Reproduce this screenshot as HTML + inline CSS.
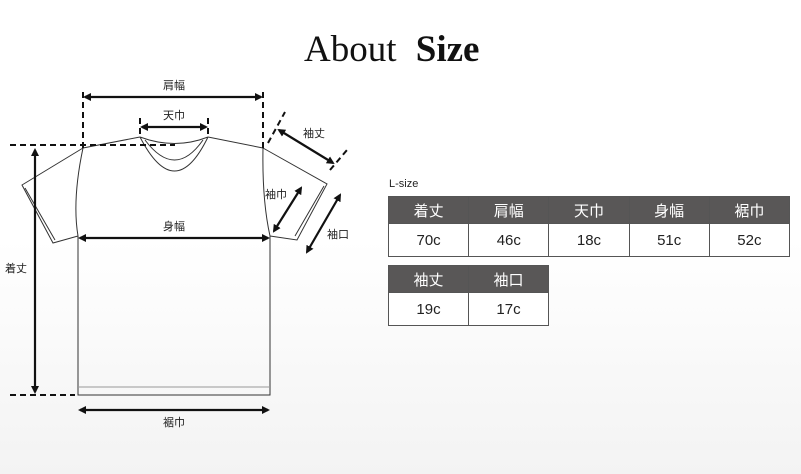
<!DOCTYPE html>
<html><head><meta charset="utf-8"><style>
body{margin:0;width:801px;height:474px;overflow:hidden;background:linear-gradient(#fff 0,#fff 240px,#f3f3f3 474px);font-family:"Liberation Sans","Noto Sans CJK JP",sans-serif;position:relative}
.t{position:absolute;border-collapse:collapse;font-size:15px;text-align:center;table-layout:fixed}
.t td{border:1.5px solid #555;padding:0}
.t tr.h td{background:#595757;color:#fff;height:26px}
.t tr.b td{background:#fff;color:#222;height:32px}
</style></head><body>
<div style="position:absolute;left:304px;top:28px;font-family:'Liberation Serif',serif;font-size:37px;color:#111;white-space:nowrap">About <b style="margin-left:10px">Size</b></div>
<div style="position:absolute;left:389px;top:178px;font-size:11px;color:#222">L-size</div>
<table class="t" style="left:388px;top:196px;width:402px"><tr class="h"><td>着丈</td><td>肩幅</td><td>天巾</td><td>身幅</td><td>裾巾</td></tr><tr class="b"><td>70c</td><td>46c</td><td>18c</td><td>51c</td><td>52c</td></tr></table>
<table class="t" style="left:388px;top:265px;width:161px"><tr class="h"><td>袖丈</td><td>袖口</td></tr><tr class="b"><td>19c</td><td>17c</td></tr></table>
<svg width="801" height="474" style="position:absolute;left:0;top:0" font-family="Liberation Sans,Noto Sans CJK JP,sans-serif" font-size="11" fill="#222">
<defs><marker id="a" markerWidth="8" markerHeight="8" refX="6" refY="4" orient="auto-start-reverse" markerUnits="userSpaceOnUse"><path d="M0,0L8,4L0,8z" fill="#111"/></marker></defs>
<g fill="none" stroke="#333" stroke-width="1">
<path d="M83,148L140,137M208,137L263,148"/>
<path d="M140,137Q175,205 208,137M145,140Q175,180 203,140M140,137Q175,150 208,137"/>
<path d="M83,148L22,185L53,243L78,236M25,188L55,240"/>
<path d="M83,148Q72,200 78,236L78,395L270,395L270,236Q262,200 263,148"/>
<path d="M263,148L327,184L297,240L270,236M324,186L295,236"/>
<path d="M78,387L270,387" stroke="#999"/>
</g>
<g stroke="#111" stroke-width="2" fill="none" stroke-dasharray="6,4">
<path d="M83,92V148M263,92V148M140,118V137M208,118V137M10,145H175M10,395H75M268,143L285,112M330,170L347,150"/>
</g>
<g stroke="#111" stroke-width="2.2" marker-start="url(#a)" marker-end="url(#a)">
<line x1="85" y1="97" x2="261" y2="97"/>
<line x1="142" y1="127" x2="206" y2="127"/>
<line x1="35" y1="150" x2="35" y2="392"/>
<line x1="80" y1="238" x2="268" y2="238"/>
<line x1="80" y1="410" x2="268" y2="410"/>
<line x1="279" y1="130" x2="333" y2="163"/>
<line x1="274" y1="231" x2="301" y2="188"/>
<line x1="307" y1="252" x2="340" y2="195"/>
</g>
<text x="174" y="89" text-anchor="middle">肩幅</text>
<text x="174" y="119" text-anchor="middle">天巾</text>
<text x="174" y="230" text-anchor="middle">身幅</text>
<text x="174" y="426" text-anchor="middle">裾巾</text>
<text x="5" y="272">着丈</text>
<text x="303" y="137">袖丈</text>
<text x="265" y="198">袖巾</text>
<text x="327" y="238">袖口</text>
</svg>
</body></html>
